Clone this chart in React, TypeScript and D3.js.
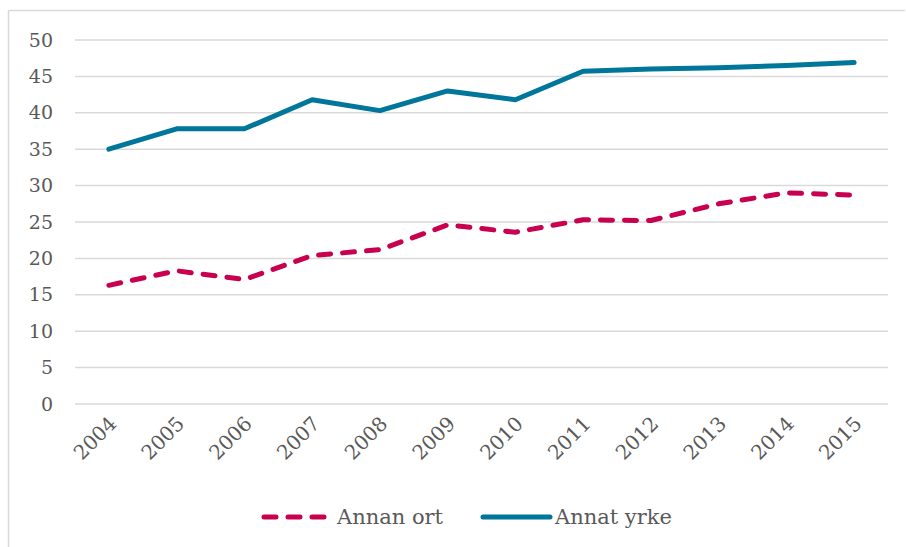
import React from 'react';
import * as d3 from 'd3';

const years = ['2004', '2005', '2006', '2007', '2008', '2009', '2010', '2011', '2012', '2013', '2014', '2015'];
const annanOrt = [16.3, 18.3, 17.1, 20.4, 21.2, 24.6, 23.6, 25.3, 25.2, 27.5, 29.0, 28.7];
const annatYrke = [35.0, 37.8, 37.8, 41.8, 40.3, 43.0, 41.8, 45.7, 46.0, 46.2, 46.5, 46.9];
const yTicks = [0, 5, 10, 15, 20, 25, 30, 35, 40, 45, 50];

const W = 906;
const H = 547;
const textColor = '#595959';
const gridColor = '#d9d9d9';
const redColor = '#c8004f';
const tealColor = '#00779a';
const font = '"DejaVu Serif", Georgia, serif';

const App: React.FC = () => {
  const x = d3.scalePoint<string>().domain(years).range([75, 888]).padding(0.5);
  const y = d3.scaleLinear().domain([0, 50]).range([404, 40]);

  const line = d3.line<number>()
    .x((_, i) => x(years[i]) as number)
    .y(d => y(d));

  return (
    <svg width={W} height={H} style={{ position: 'absolute', left: 0, top: 0 }} fontFamily={font}>
      <rect x={0} y={0} width={W} height={H} fill="#fff" />
      {/* frame */}
      <line x1={8.5} x2={8.5} y1={10.5} y2={H} stroke={gridColor} strokeWidth={1.5} />
      <line x1={8.5} x2={905} y1={10.5} y2={10.5} stroke={gridColor} strokeWidth={1.5} />

      {/* grid + y labels */}
      {yTicks.map(t => (
        <g key={t}>
          <line x1={75} x2={888} y1={y(t)} y2={y(t)} stroke={gridColor} strokeWidth={1.5} />
          <text x={53} y={y(t)} dy="0.35em" textAnchor="end" fontSize={19} fill={textColor}>{t}</text>
        </g>
      ))}

      {/* x labels */}
      {years.map(yr => (
        <text
          key={yr}
          transform={`translate(${(x(yr) as number) + 9}, ${425}) rotate(-45)`}
          textAnchor="end"
          fontSize={20}
          fill={textColor}
        >{yr}</text>
      ))}

      {/* series */}
      <path d={line(annatYrke) || ''} fill="none" stroke={tealColor} strokeWidth={5} strokeLinecap="round" strokeLinejoin="round" />
      <path d={line(annanOrt) || ''} fill="none" stroke={redColor} strokeWidth={5} strokeLinecap="round" strokeLinejoin="round" strokeDasharray="12 12" />

      {/* legend */}
      <line x1={264} x2={326} y1={517} y2={517} stroke={redColor} strokeWidth={5} strokeLinecap="round" strokeDasharray="12 12" />
      <text x={337} y={524} fontSize={21} fill={textColor}>Annan ort</text>
      <line x1={483} x2={550} y1={517} y2={517} stroke={tealColor} strokeWidth={5} strokeLinecap="round" />
      <text x={555} y={524} fontSize={21} fill={textColor}>Annat yrke</text>
    </svg>
  );
};

export default App;
